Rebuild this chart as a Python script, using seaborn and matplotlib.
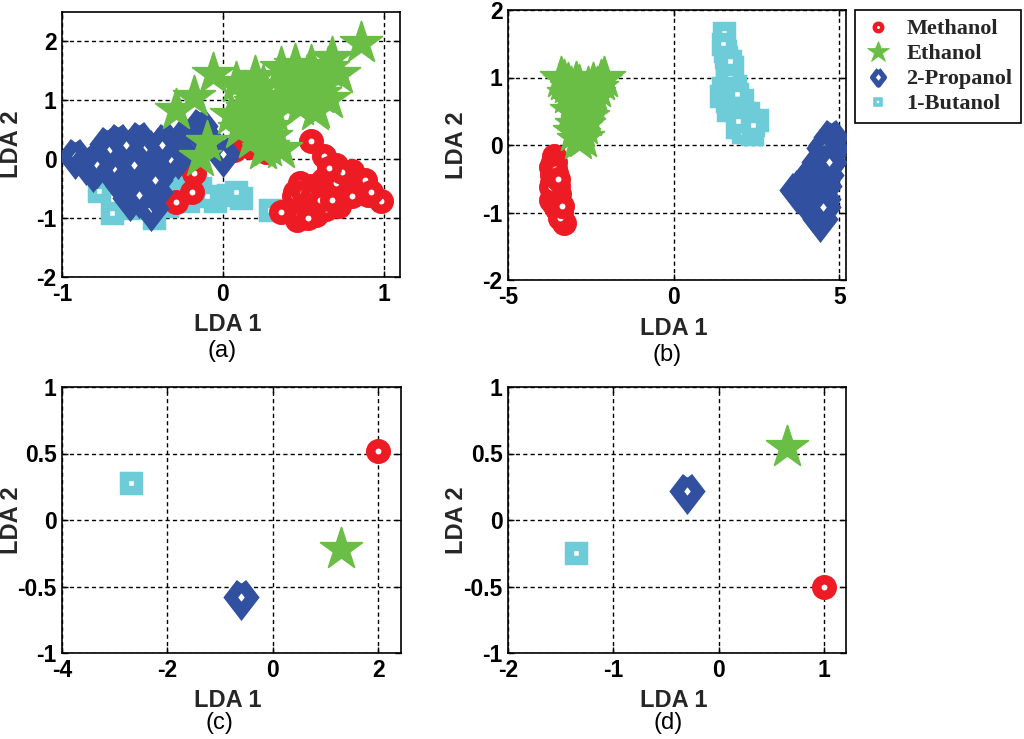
import seaborn as sns
import matplotlib.pyplot as plt
from matplotlib.lines import Line2D
from matplotlib.ticker import FormatStrFormatter

# %% Data

GROUPS = ['Methanol', 'Ethanol', '2-Propanol', '1-Butanol']

# panel (a)
a_meth_x = [0.55, 0.63, 0.70, 0.80, 0.86, 0.98, 0.36, 0.46, 0.45, 0.50, 0.55, 0.60, 0.65, 0.70, 0.75, 0.62,
            0.52, 0.45, 0.68, 0.78, 0.58, 0.72, 0.48, 0.84, 0.90, 0.46, -0.18, -0.19, -0.29, 0.07, 0.17, 0.27,
            0.44, 0.50, 0.56, 0.62, 0.66, 0.72, 0.78, 0.82, 0.76, 0.70, 0.64, 0.56, 0.48, 0.47, 0.60, 0.68,
            0.80, 0.88, 0.92, 0.53, 0.74, 0.66]
a_meth_y = [0.31, 0.06, -0.09, -0.20, -0.49, -0.71, -0.89, -1.03, -0.55, -0.70, -0.45, -0.60, -0.75, -0.50, -0.65, -0.35,
            -0.85, -0.75, -0.30, -0.40, -0.95, -0.80, -0.40, -0.35, -0.60, -0.62, -0.24, -0.55, -0.72, 0.15, 0.20, 0.12,
            -0.62, -0.55, -0.58, -0.50, -0.62, -0.58, -0.55, -0.45, -0.30, -0.40, -0.85, -0.80, -0.90, -0.95, -0.70, -0.70,
            -0.62, -0.35, -0.55, -1.00, -0.22, -0.15]
a_eth_x = [0.86, -0.06, -0.29, -0.18, 0.08, 0.20, 0.14, 0.26, 0.32, 0.22, 0.18, 0.30, 0.36, 0.10, 0.45, 0.55,
           0.62, 0.50, 0.66, 0.68, 0.58, 0.40, 0.36, -0.14, 0.05, 0.25, 0.72, 0.48, -0.10,
           0.15, 0.25, 0.35, 0.57, 0.52, 0.60, 0.30, 0.20, 0.12, 0.65, 0.45, 0.28]
a_eth_y = [1.97, 1.45, 0.83, 1.05, 1.30, 1.40, 1.15, 1.02, 0.78, 0.62, 0.35, 0.38, 0.18, 0.52, 1.35, 1.58,
           1.30, 1.12, 1.02, 1.72, 0.85, 1.22, 1.55, 0.03, 0.75, 0.15, 1.45, 0.90, 0.30,
           0.85, 1.25, 1.05, 0.82, 1.42, 1.10, 0.55, 0.95, 0.70, 1.55, 1.60, 0.20]
a_prop_x = [-0.92, -0.81, -0.72, -0.65, -0.52, -0.36, -0.14, 0.00, -0.45, -0.58, -0.70, -0.60, -0.50, -0.40,
            -0.50, -0.62, -0.30, -0.24, -0.45, -0.56, -0.66, -0.36, -0.20, -0.42, -0.75, -0.28,
            -0.85, -0.78, -0.68, -0.62, -0.55, -0.48, -0.42, -0.33, -0.25, -0.18, -0.52, -0.70, -0.60,
            -0.38, -0.12]
a_prop_y = [0.06, -0.17, 0.26, 0.31, 0.34, 0.31, 0.57, 0.09, -0.83, -0.66, 0.00, -0.20, 0.00, 0.10,
            -0.40, -0.45, 0.20, 0.38, -0.20, 0.15, -0.32, -0.08, 0.40, -0.55, 0.10, 0.05,
            -0.05, -0.10, -0.15, 0.10, -0.10, 0.20, -0.35, 0.00, 0.22, 0.30, -0.60, 0.18, 0.25,
            0.25, 0.40]
a_but_x = [-0.77, -0.69, -0.43, -0.05, 0.11, 0.29, -0.37, -0.14, 0.03, -0.22, -0.56, -0.76, -0.49, -0.30,
           -0.60, -0.10, -0.35, -0.65, -0.42, -0.28, 0.08]
a_but_y = [-0.54, -0.91, -1.00, -0.71, -0.66, -0.86, -0.14, -0.49, -0.60, -0.71, -0.83, -0.26, -0.49, -0.40,
           -0.60, -0.62, -0.80, -0.40, -0.65, -0.55, -0.55]

# panel (b)
b_meth_x = [-3.61, -3.70, -3.66, -3.70, -3.50, -3.45, -3.55, -3.40, -3.32, -3.62, -3.58,
            -3.65, -3.68, -3.60, -3.64, -3.55, -3.60, -3.45, -3.48, -3.52, -3.42, -3.38, -3.70, -3.58, -3.50]
b_meth_y = [-0.17, -0.32, -0.57, -0.82, -0.92, -0.72, -0.42, -1.00, -1.15, -0.65, -0.25,
            -0.25, -0.45, -0.52, -0.70, -0.78, -0.88, -0.85, -0.60, -0.95, -1.08, -0.90, -0.62, -0.35, -0.50]
b_eth_x = [-3.40, -2.09, -2.90, -3.20, -2.60, -3.00, -2.50, -2.80, -3.10, -2.70, -2.95, -2.85, -2.30, -2.75,
           -3.30, -2.20, -3.10, -2.45, -2.85, -3.05, -2.65, -2.90, -2.60, -2.80, -3.00, -2.75, -2.40, -3.20,
           -2.95]
b_eth_y = [0.99, 0.99, 0.07, 0.90, 0.85, 0.70, 0.65, 0.50, 0.50, 0.30, 0.30, 0.15, 0.85, 0.75,
           0.95, 0.95, 0.85, 0.90, 0.88, 0.62, 0.58, 0.45, 0.42, 0.25, 0.20, 0.10, 0.75, 0.75,
           0.92]
b_prop_x = [4.75, 4.42, 3.72, 4.60, 4.68, 4.50, 4.30, 4.55, 4.10, 4.40, 4.20, 4.50, 3.90, 4.35, 4.75,
            4.65, 4.55, 4.40, 4.62, 4.20, 4.45, 4.00, 4.30, 4.55, 3.85, 4.10, 4.40, 4.25, 4.50, 4.60, 4.68]
b_prop_y = [0.12, -1.09, -0.67, 0.00, -0.10, -0.20, -0.35, -0.45, -0.50, -0.60, -0.75, -0.80, -0.75, -0.95, -0.05,
            -0.15, -0.05, -0.25, -0.30, -0.40, -0.40, -0.55, -0.55, -0.60, -0.62, -0.70, -0.72, -0.88, -0.92,
            -0.45, -0.25]
b_but_x = [1.53, 2.35, 1.90, 2.50, 1.55, 1.75, 1.85, 1.44, 2.05, 2.25, 1.65, 1.60,
           1.50, 1.58, 1.62, 1.70, 1.50, 1.75, 1.60, 1.90, 1.80, 2.00, 2.20, 2.10, 1.95, 2.40, 1.70]
b_but_y = [1.66, 0.17, 0.27, 0.37, 1.39, 1.16, 0.87, 0.72, 0.67, 0.47, 0.52, 1.00,
           1.50, 1.30, 1.10, 1.00, 0.85, 0.80, 0.65, 0.75, 0.55, 0.45, 0.30, 0.20, 0.35, 0.30, 1.25]

# panel (c)
c_x = [2.00, 1.30, -0.60, -2.70]
c_y = [0.52, -0.22, -0.58, 0.28]

# panel (d)
d_x = [1.00, 0.65, -0.30, -1.35]
d_y = [-0.50, 0.55, 0.22, -0.25]

# %% Figure aesthetics

RED = '#ED1C24'
GREEN = '#6ABD45'
BLUE = '#3150A0'
CYAN = '#6DCCD8'

DIAMOND = [(0, 1), (0.77, 0), (0, -1), (-0.77, 0), (0, 1)]

STYLES = {
    'Methanol': dict(marker='o', s=125, lw=6.8, color=RED, face='white'),
    'Ethanol': dict(marker='*', s=1050, lw=1, color=GREEN, face=GREEN),
    '2-Propanol': dict(marker=DIAMOND, s=400, lw=8.5, color=BLUE, face='white'),
    '1-Butanol': dict(marker='s', s=88, lw=6.8, color=CYAN, face='white'),
}

sns.set_theme(style='white')
plt.rcParams['font.family'] = ['Liberation Sans', 'DejaVu Sans']
plt.rcParams['axes.unicode_minus'] = False

TICK_SIZE = 16.5
LABEL_FONT = dict(fontsize=17, fontweight='bold')


def plot_group(ax, x, y, name):
    st = STYLES[name]
    sns.scatterplot(x=x, y=y, ax=ax, marker=st['marker'], s=st['s'], color=st['color'],
                    facecolor=st['face'], edgecolor=st['color'], linewidth=st['lw'],
                    joinstyle='miter', legend=False, zorder=3)


def style_axes(ax, xlim, xticks, ylim, yticks, ylab_x):
    ax.set_xlim(xlim)
    ax.set_ylim(ylim)
    ax.set_xticks(xticks)
    ax.set_yticks(yticks)
    ax.xaxis.set_major_formatter(FormatStrFormatter('%g'))
    ax.yaxis.set_major_formatter(FormatStrFormatter('%g'))
    for lab in ax.get_xticklabels() + ax.get_yticklabels():
        lab.set_fontsize(TICK_SIZE)
        lab.set_fontweight('bold')
    ax.tick_params(direction='in', length=4, width=1, color='black', pad=4,
                   bottom=True, left=True, top=True, right=True, labelcolor='black')
    ax.set_axisbelow(True)
    ax.grid(True, color='black', linestyle=(0, (3, 2.3)), linewidth=1)
    for sp in ax.spines.values():
        sp.set_color('black')
        sp.set_linewidth(1.2)
        sp.set_visible(True)
    ax.set_xlabel('LDA 1', va='center', **LABEL_FONT)
    ax.set_ylabel('LDA 2', va='center', **LABEL_FONT)
    ax.xaxis.set_label_coords(0.49, -0.18)
    ax.yaxis.set_label_coords(ylab_x, 0.5)


fig = plt.figure(figsize=(10.24, 7.39), dpi=100)
W, H = 1024, 739


def add_axes(left, top, right, bottom):
    return fig.add_axes([left / W, 1 - bottom / H, (right - left) / W, (bottom - top) / H])


ax_a = add_axes(62, 12, 400, 277)
ax_b = add_axes(508, 10, 846, 280)
ax_c = add_axes(62, 387, 401, 653)
ax_d = add_axes(508, 387, 846, 653)

# %% Panel (a): overlapping order as in the original
plot_group(ax_a, a_but_x, a_but_y, '1-Butanol')
plot_group(ax_a, a_meth_x, a_meth_y, 'Methanol')
plot_group(ax_a, a_prop_x, a_prop_y, '2-Propanol')
plot_group(ax_a, a_eth_x, a_eth_y, 'Ethanol')
style_axes(ax_a, (-1, 1.1), [-1, 0, 1], (-2, 2.5), [-2, -1, 0, 1, 2], -0.148)

# %% Panel (b)
plot_group(ax_b, b_meth_x, b_meth_y, 'Methanol')
plot_group(ax_b, b_eth_x, b_eth_y, 'Ethanol')
plot_group(ax_b, b_prop_x, b_prop_y, '2-Propanol')
plot_group(ax_b, b_but_x, b_but_y, '1-Butanol')
style_axes(ax_b, (-5, 5.2), [-5, 0, 5], (-2, 2), [-2, -1, 0, 1, 2], -0.151)

# %% Panels (c) and (d): one point per class
for i, name in enumerate(GROUPS):
    plot_group(ax_c, [c_x[i]], [c_y[i]], name)
    plot_group(ax_d, [d_x[i]], [d_y[i]], name)
style_axes(ax_c, (-4, 2.43), [-4, -2, 0, 2], (-1, 1), [-1, -0.5, 0, 0.5, 1], -0.148)
style_axes(ax_d, (-2, 1.21), [-2, -1, 0, 1], (-1, 1), [-1, -0.5, 0, 0.5, 1], -0.151)

# %% Panel captions
for label, xp, yp in [('(a)', 222, 351), ('(b)', 667, 355), ('(c)', 219, 723), ('(d)', 668, 723)]:
    fig.text(xp / W, 1 - yp / H, label, ha='center', va='center', fontsize=17, color='black')

# %% Legend
handles = [
    Line2D([], [], linestyle='none', marker='o', ms=5.4, mew=3.2, mfc='white', mec=RED),
    Line2D([], [], linestyle='none', marker='*', ms=16.5, mew=0.5, mfc=GREEN, mec=GREEN),
    Line2D([], [], linestyle='none', marker=DIAMOND, ms=11, mew=3.8, mfc='white', mec=BLUE),
    Line2D([], [], linestyle='none', marker='s', ms=4.7, mew=2.6, mfc='white', mec=CYAN),
]
leg = fig.legend(handles, GROUPS, loc='upper left', bbox_to_anchor=(855 / W, 1 - 10 / H),
                 frameon=True, fancybox=False, edgecolor='black', framealpha=1,
                 prop=dict(family='Liberation Serif', weight='bold', size=16),
                 handlelength=1.3, handletextpad=0.6, labelspacing=0.2, borderpad=0.4,
                 borderaxespad=0)
leg.get_frame().set_linewidth(1.2)

plt.savefig('out.png', dpi=100)
